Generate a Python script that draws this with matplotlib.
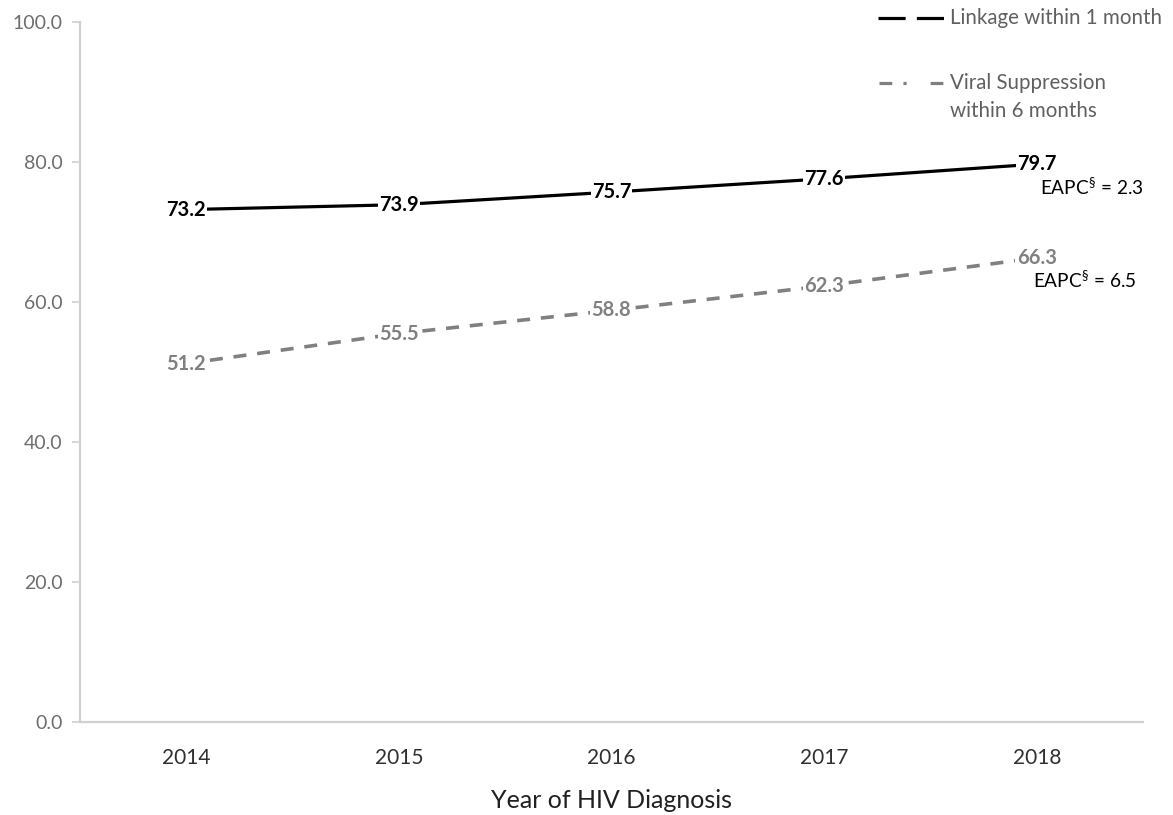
import matplotlib
matplotlib.use("Agg")
import matplotlib.pyplot as plt
from matplotlib.lines import Line2D

plt.rcParams['font.family'] = ['Lato', 'DejaVu Sans']
plt.rcParams['mathtext.fontset'] = 'custom'
plt.rcParams['mathtext.rm'] = 'Lato'

years = ["2014", "2015", "2016", "2017", "2018"]
linkage = [73.2, 73.9, 75.7, 77.6, 79.7]
suppression = [51.2, 55.5, 58.8, 62.3, 66.3]
eapc_linkage = 2.3
eapc_suppression = 6.5
yticks = [0, 20, 40, 60, 80, 100]

fig = plt.figure(figsize=(11.73, 8.15), dpi=100)
ax = fig.add_axes([80/1173, 1-722/815, (1143-80)/1173, (722-22)/815])

x = list(range(len(years)))
ax.plot(x, linkage, color='black', lw=2.3, solid_capstyle='butt', zorder=2)
ax.plot(x, suppression, color='#808080', lw=2.6, dashes=(3.6, 3.0), zorder=2)

for xi, v in zip(x, linkage):
    ax.text(xi, v, f"{v:.1f}", ha='center', va='center', fontsize=14.5,
            fontweight='bold', color='black', zorder=3,
            bbox=dict(fc='white', ec='none', pad=0.8))
for xi, v in zip(x, suppression):
    ax.text(xi, v, f"{v:.1f}", ha='center', va='center', fontsize=14.5,
            fontweight='bold', color='#808080', zorder=3,
            bbox=dict(fc='white', ec='none', pad=0.8))

ax.text(4.5, 76.4, "EAPC$^{\\mathrm{§}}$ = " + f"{eapc_linkage}", ha='right', va='center',
        fontsize=13.7, color='black')
ax.text(4.47, 63.2, "EAPC$^{\\mathrm{§}}$ = " + f"{eapc_suppression}", ha='right', va='center',
        fontsize=13.7, color='black')

ax.set_xlim(-0.5, 4.5)
ax.set_ylim(0, 100)
ax.set_xticks(x)
ax.set_xticklabels(years, fontsize=15, color='#303030')
ax.set_yticks(yticks)
ax.set_yticklabels([f"{t:.1f}" for t in yticks], fontsize=14, color='#6e6e6e')
ax.tick_params(axis='x', length=0, pad=19)
ax.tick_params(axis='y', length=5.5, width=1.2, color='#d0d0d0', pad=7)
for s in ['top', 'right']:
    ax.spines[s].set_visible(False)
for s in ['left', 'bottom']:
    ax.spines[s].set_color('#d0d0d0')
    ax.spines[s].set_linewidth(1.6)
ax.set_xlabel("Year of HIV Diagnosis", fontsize=18, color='#202020', labelpad=15)

# legend (manual, figure coordinates)
def fx(px):
    return px / 1173
def fy(py):
    return 1 - py / 815

fig.add_artist(Line2D([fx(878), fx(945)], [fy(18), fy(18)], color='black', lw=2.3,
                      dashes=(8.5, 3.5)))
fig.text(fx(950), fy(18), "Linkage within 1 month", fontsize=14.8, color='#606060',
         ha='left', va='center')
fig.add_artist(Line2D([fx(879), fx(943)], [fy(83), fy(83)], color='#808080', lw=2.3,
                      dashes=(4, 3.5, 1, 7.5)))
fig.text(fx(950), fy(97), "Viral Suppression\nwithin 6 months", fontsize=14.8,
         color='#606060', ha='left', va='center', linespacing=1.5)

fig.savefig("out.png", dpi=100)
